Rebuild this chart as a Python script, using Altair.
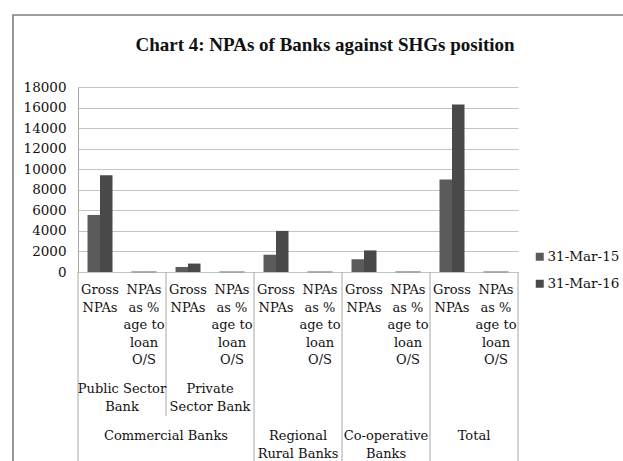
import altair as alt
import pandas as pd

# Bank groups, the two measures shown for each, and the two reporting dates
groups = ["Public Sector Bank", "Private Sector Bank", "Regional Rural Banks",
          "Co-operative Banks", "Total"]
measures = ["Gross NPAs", "NPAs as % age to loan O/S"]
dates = ["31-Mar-15", "31-Mar-16"]

gross_npa_2015 = [5550, 490, 1680, 1240, 9000]
gross_npa_2016 = [9420, 820, 4000, 2100, 16300]
npa_pct_2015 = [7.8, 2.4, 6.1, 9.6, 7.4]
npa_pct_2016 = [8.6, 1.8, 5.9, 12.0, 6.5]

measure_labels = ["Gross\nNPAs", "NPAs\nas %\nage to\nloan\nO/S"]
sub_group_labels = ["Public Sector\nBank", "Private\nSector Bank"]
top_group_labels = ["Commercial Banks", "Regional\nRural Banks",
                    "Co-operative\nBanks", "Total"]

FONT = "DejaVu Serif"
GRID = "#c4c4c4"
LINE = "#a8a8a8"
PLOT_W, PLOT_H = 440, 185
BAR_W = 12.5

keys = [f"{g}|{m}" for g in groups for m in measures]
HALF_BAND = PLOT_W / len(keys) / 2   # shift from a band's centre to its edge

rows = []
for i, g in enumerate(groups):
    for d, gross, pct in ((dates[0], gross_npa_2015, npa_pct_2015),
                          (dates[1], gross_npa_2016, npa_pct_2016)):
        rows.append({"key": f"{g}|{measures[0]}", "measure": measures[0],
                     "date": d, "value": gross[i]})
        rows.append({"key": f"{g}|{measures[1]}", "measure": measures[1],
                     "date": d, "value": pct[i]})
bars_df = pd.DataFrame(rows)

xscale = alt.Scale(domain=keys, paddingInner=0, paddingOuter=0)
yscale = alt.Scale(domain=[0, 18000], nice=False)
yaxis = alt.Axis(values=list(range(0, 18001, 2000)), format="d", title=None,
                 ticks=False, labelPadding=12, labelFont=FONT,
                 labelFontSize=13.5, labelColor="#111", domainColor=LINE,
                 gridColor=GRID, gridWidth=1.2)
color = alt.Color("date:N", sort=dates,
                  scale=alt.Scale(domain=dates, range=["#5b5b5b", "#494949"]),
                  legend=alt.Legend(title=None, orient="none", legendX=455,
                                    legendY=163, symbolType="square",
                                    symbolSize=64, symbolStrokeWidth=0,
                                    labelFont=FONT, labelFontSize=13.5,
                                    labelColor="#111", rowPadding=12,
                                    padding=0, labelOffset=1, labelLimit=0))
pct_outline = alt.condition(alt.datum.measure == measures[1],
                            alt.value("#9c9c9c"), alt.value("transparent"))


def xenc():
    return alt.X("key:N", scale=xscale, axis=None)


def bar_layer(date, shift):
    return alt.Chart(bars_df).transform_filter(
        alt.datum.date == date
    ).mark_bar(width=BAR_W, xOffset=shift, strokeWidth=1).encode(
        x=xenc(),
        y=alt.Y("value:Q", scale=yscale, axis=yaxis),
        color=color,
        stroke=pct_outline,
    )


bars15 = bar_layer(dates[0], -BAR_W / 2)
bars16 = bar_layer(dates[1], BAR_W / 2)

# Separators of the grouped category axis (left edges of the group bands)
long_sep = pd.DataFrame({"key": [f"{g}|{measures[0]}" for g in groups
                                 if g != groups[1]]})
short_sep = pd.DataFrame({"key": [f"{groups[1]}|{measures[0]}"]})
end_sep = pd.DataFrame({"key": [keys[-1]]})


def separator(df, bottom, shift):
    return alt.Chart(df).mark_rule(color=LINE, strokeWidth=1,
                                   xOffset=shift).encode(
        x=xenc(), y=alt.value(PLOT_H), y2=alt.value(bottom))


sep_long = separator(long_sep, 400, -HALF_BAND)
sep_short = separator(short_sep, 329, -HALF_BAND)
sep_end = separator(end_sep, 400, HALF_BAND)

text_style = dict(font=FONT, fontSize=13, color="#111", lineBreak="\n",
                  lineHeight=17.6, align="center", baseline="alphabetic")

lvl1 = pd.DataFrame({"key": keys,
                     "label": [measure_labels[i % 2] for i in range(len(keys))]})
lvl1_text = alt.Chart(lvl1).mark_text(**text_style).encode(
    x=xenc(), y=alt.value(207), text="label:N")

lvl2 = pd.DataFrame({"key": [f"{groups[0]}|{measures[1]}", f"{groups[1]}|{measures[1]}"],
                     "label": sub_group_labels})
lvl2_text = alt.Chart(lvl2).mark_text(xOffset=-HALF_BAND, **text_style).encode(
    x=xenc(), y=alt.value(306), text="label:N")

lvl3 = pd.DataFrame({"key": [f"{groups[1]}|{measures[0]}"] +
                            [f"{g}|{measures[1]}" for g in groups[2:]],
                     "label": top_group_labels})
lvl3_text = alt.Chart(lvl3).mark_text(xOffset=-HALF_BAND, **text_style).encode(
    x=xenc(), y=alt.value(353), text="label:N")

title = alt.Chart(pd.DataFrame({"t": ["Chart 4: NPAs of Banks against SHGs position"]})
                  ).mark_text(font="Liberation Serif", fontWeight="bold",
                              fontSize=19, color="#111", align="center",
                              baseline="alphabetic").encode(
    x=alt.value(247), y=alt.value(-36), text="t:N")

frame = alt.Chart(pd.DataFrame({"f": [0]})).mark_rect(
    fillOpacity=0, stroke="#7d7d7d", strokeWidth=1.6).encode(
    x=alt.value(-65), x2=alt.value(700), y=alt.value(-72), y2=alt.value(500))

chart = alt.layer(bars15, bars16, sep_long, sep_short, sep_end,
                  lvl1_text, lvl2_text, lvl3_text, title, frame).properties(
    width=PLOT_W, height=PLOT_H,
    autosize=alt.AutoSizeParams(type="none"),
    padding={"left": 78, "top": 87, "right": 105, "bottom": 189},
    background="white",
).configure_view(strokeWidth=0)

chart.save("out.html", embed_options={"renderer": "svg", "actions": False})
